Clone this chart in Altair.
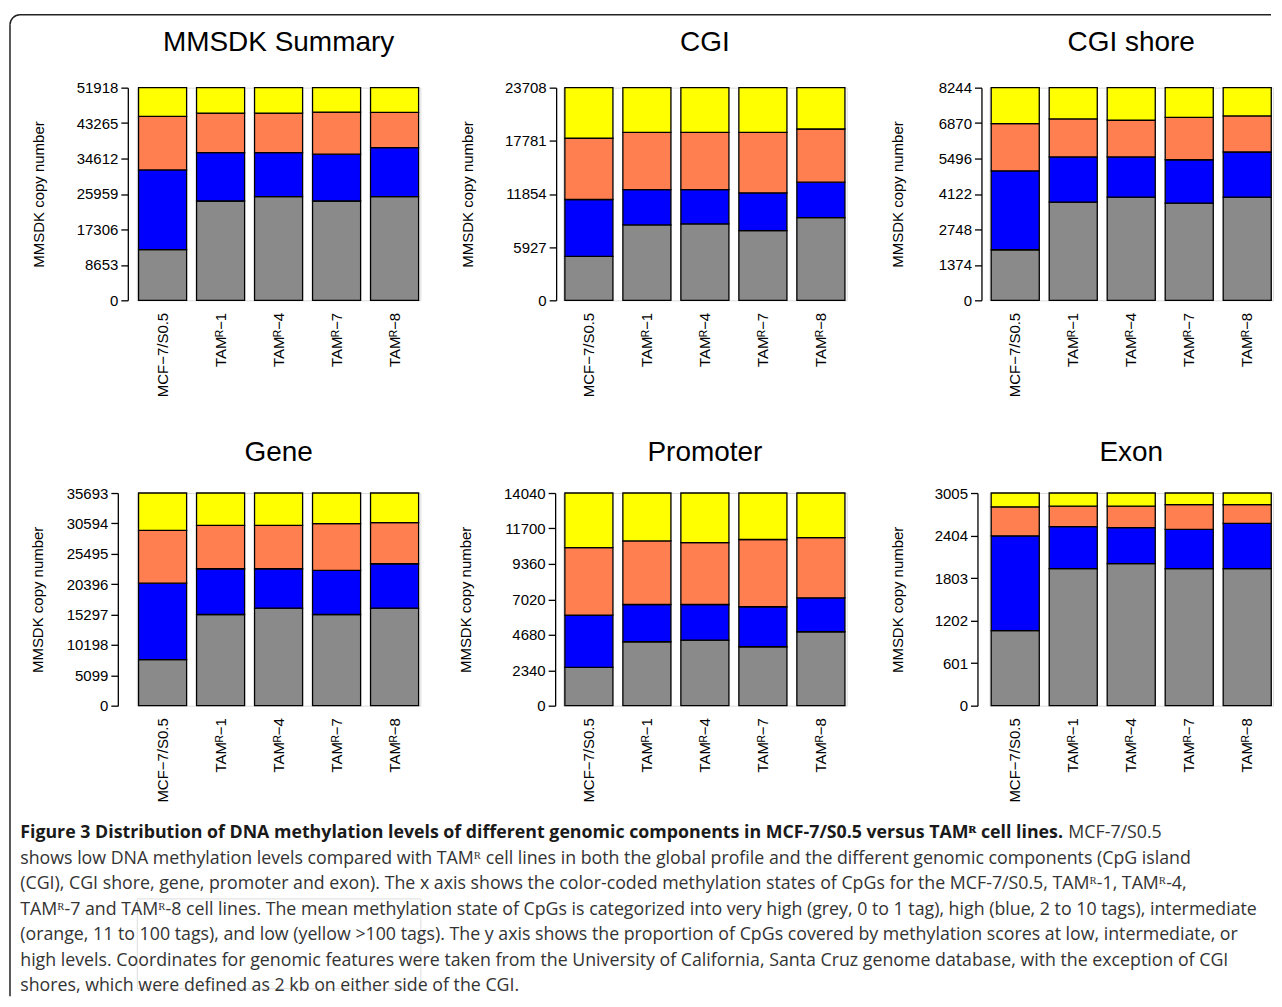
import altair as alt
import pandas as pd

# ---------------- data ----------------
categories = ["MCF−7/S0.5", "TAMᴿ−1", "TAMᴿ−4", "TAMᴿ−7", "TAMᴿ−8"]
levels = ["very high", "high", "intermediate", "low"]
level_colors = ["#8a8a8a", "#0000ff", "#ff7f50", "#ffff00"]

panel_titles = ["MMSDK Summary", "CGI", "CGI shore", "Gene", "Promoter", "Exon"]

# segment heights (grey = very high, blue = high, orange = intermediate, yellow = low)
summary_grey = [12400, 24250, 25300, 24250, 25300]
summary_blue = [19440, 11830, 10780, 11420, 12000]
summary_orange = [13060, 9630, 9630, 10290, 8570]
summary_yellow = [7018, 6208, 6208, 5958, 6048]
summary_ticks = [0, 8653, 17306, 25959, 34612, 43265, 51918]

cgi_grey = [4900, 8410, 8520, 7780, 9220]
cgi_blue = [6340, 3940, 3830, 4200, 3950]
cgi_orange = [6830, 6380, 6380, 6750, 5930]
cgi_yellow = [5638, 4978, 4978, 4978, 4608]
cgi_ticks = [0, 5927, 11854, 17781, 23708]

shore_grey = [1960, 3810, 4000, 3770, 4000]
shore_blue = [3060, 1750, 1560, 1680, 1750]
shore_orange = [1830, 1470, 1420, 1640, 1400]
shore_yellow = [1394, 1214, 1264, 1154, 1094]
shore_ticks = [0, 1374, 2748, 4122, 5496, 6870, 8244]

gene_grey = [7730, 15300, 16360, 15300, 16360]
gene_blue = [12830, 7680, 6620, 7400, 7460]
gene_orange = [8860, 7280, 7280, 7850, 6900]
gene_yellow = [6273, 5433, 5433, 5143, 4973]
gene_ticks = [0, 5099, 10198, 15297, 20396, 25495, 30594, 35693]

prom_grey = [2530, 4220, 4330, 3890, 4880]
prom_blue = [3450, 2460, 2350, 2640, 2240]
prom_orange = [4460, 4200, 4090, 4440, 3980]
prom_yellow = [3600, 3160, 3270, 3070, 2940]
prom_ticks = [0, 2340, 4680, 7020, 9360, 11700, 14040]

exon_grey = [1060, 1937, 2007, 1937, 1937]
exon_blue = [1340, 592, 508, 554, 638]
exon_orange = [410, 290, 304, 350, 266]
exon_yellow = [195, 186, 186, 164, 164]
exon_ticks = [0, 601, 1202, 1803, 2404, 3005]

y_title = "MMSDK copy number"

caption_bold = ("Figure 3 Distribution of DNA methylation levels of different genomic "
                "components in MCF-7/S0.5 versus TAMᴿ cell lines.")
caption_tail = "MCF-7/S0.5"
caption_lines = [
    "shows low DNA methylation levels compared with TAMᴿ cell lines in both the global profile and the different genomic components (CpG island",
    "(CGI), CGI shore, gene, promoter and exon). The x axis shows the color-coded methylation states of CpGs for the MCF-7/S0.5, TAMᴿ-1, TAMᴿ-4,",
    "TAMᴿ-7 and TAMᴿ-8 cell lines. The mean methylation state of CpGs is categorized into very high (grey, 0 to 1 tag), high (blue, 2 to 10 tags), intermediate",
    "(orange, 11 to 100 tags), and low (yellow >100 tags). The y axis shows the proportion of CpGs covered by methylation scores at low, intermediate, or",
    "high levels. Coordinates for genomic features were taken from the University of California, Santa Cruz genome database, with the exception of CGI",
    "shores, which were defined as 2 kb on either side of the CGI.",
]

# ---------------- layout constants ----------------
PW, PH = 284, 213
FONT = "Liberation Sans"


def panel(title, series, ticks, axis_offset, title_x, title_offset):
    rows = []
    for i, c in enumerate(categories):
        for j, vals in enumerate(series):
            rows.append({"cat": c, "level": levels[j], "ord": j, "value": vals[i]})
    df = pd.DataFrame(rows)
    return alt.Chart(df).mark_bar(stroke="black", strokeWidth=1.3).encode(
        x=alt.X("cat:N", sort=categories,
                scale=alt.Scale(paddingInner=0.171, paddingOuter=0.03),
                axis=alt.Axis(title=None, labelAngle=270, domain=False, ticks=False,
                              labelPadding=12, labelFontSize=15, labelFont=FONT,
                              labelColor="black")),
        y=alt.Y("value:Q", stack="zero",
                scale=alt.Scale(domain=[0, ticks[-1]], nice=False, zero=True),
                axis=alt.Axis(values=ticks, format="d", title=y_title, grid=False,
                              offset=axis_offset, domainColor="black", domainWidth=1.3,
                              tickColor="black", tickWidth=1.3, tickSize=7,
                              labelPadding=3, labelFontSize=15, labelFont=FONT,
                              labelColor="black", titleFont=FONT, titleFontSize=15,
                              titleFontWeight="normal", titleColor="black",
                              titleAngle=270, titleBaseline="middle", titleAlign="center",
                              titleX=title_x, titleY=PH / 2)),
        color=alt.Color("level:N", scale=alt.Scale(domain=levels, range=level_colors),
                        legend=None),
        order=alt.Order("ord:Q", sort="ascending"),
    ).properties(
        width=PW, height=PH,
        title=alt.TitleParams(title, fontSize=28, font=FONT, fontWeight="normal",
                              color="black", offset=title_offset, baseline="alphabetic",
                              anchor="middle"),
    )


p1 = panel(panel_titles[0], [summary_grey, summary_blue, summary_orange, summary_yellow],
           summary_ticks, 9, -89, 2)
p2 = panel(panel_titles[1], [cgi_grey, cgi_blue, cgi_orange, cgi_yellow],
           cgi_ticks, 7, -89, 2)
p3 = panel(panel_titles[2], [shore_grey, shore_blue, shore_orange, shore_yellow],
           shore_ticks, 8, -84, 2)
p4 = panel(panel_titles[3], [gene_grey, gene_blue, gene_orange, gene_yellow],
           gene_ticks, 19, -80, -3)
p5 = panel(panel_titles[4], [prom_grey, prom_blue, prom_orange, prom_yellow],
           prom_ticks, 8, -90, -3)
p6 = panel(panel_titles[5], [exon_grey, exon_blue, exon_orange, exon_yellow],
           exon_ticks, 12, -80, -3)

# ---------------- caption + frame ----------------
# caption group origin sits at page (~136, 898)
cap_df = pd.DataFrame({"line": list(range(1, len(caption_lines) + 1)), "text": caption_lines})
head_df = pd.DataFrame({"line": [0], "bold": [caption_bold], "tail": [caption_tail]})
one = pd.DataFrame({"k": [0]})

ysc = alt.Scale(domain=[0, 6], range=[-65, 88])
CAP_FONT = "Open Sans"
CAP_SIZE = 17.8

cap_regular = alt.Chart(cap_df).mark_text(
    align="left", baseline="middle", font=CAP_FONT, fontSize=CAP_SIZE, color="#333333"
).encode(x=alt.value(-116.75), y=alt.Y("line:Q", scale=ysc, axis=None), text="text:N")

cap_bold = alt.Chart(head_df).mark_text(
    align="left", baseline="middle", font=CAP_FONT, fontSize=CAP_SIZE, fontWeight="bold",
    color="#1a1a1a"
).encode(x=alt.value(-116.75), y=alt.Y("line:Q", scale=ysc, axis=None), text="bold:N")

cap_tail = alt.Chart(head_df).mark_text(
    align="left", baseline="middle", font=CAP_FONT, fontSize=CAP_SIZE, color="#333333"
).encode(x=alt.value(933), y=alt.Y("line:Q", scale=ysc, axis=None), text="tail:N")

frame_top = alt.Chart(one).mark_rule(color="#222222", strokeWidth=1.5).encode(
    x=alt.value(-117), x2=alt.value(1136), y=alt.value(-885))
frame_left = alt.Chart(one).mark_rule(color="#222222", strokeWidth=1.5).encode(
    x=alt.value(-127), y=alt.value(-875), y2=alt.value(98))
frame_corner = alt.Chart(one).mark_arc(
    radius=10.75, radius2=9.25, theta=4.712389, theta2=6.283185, color="#222222"
).encode(x=alt.value(-117), y=alt.value(-875))

caption = alt.layer(frame_top, frame_left, frame_corner, cap_regular, cap_bold, cap_tail
                    ).properties(width=PW, height=90)

chart = alt.concat(p1, p2, p3, p4, p5, p6, caption, columns=3,
                   spacing={"row": 193, "column": 143}, bounds="flush").properties(
    padding={"left": 0, "top": 4, "right": 0, "bottom": 0}
).configure_view(stroke=None).configure(background="white")

chart.save("out.html", embed_options={"renderer": "svg", "actions": False})
